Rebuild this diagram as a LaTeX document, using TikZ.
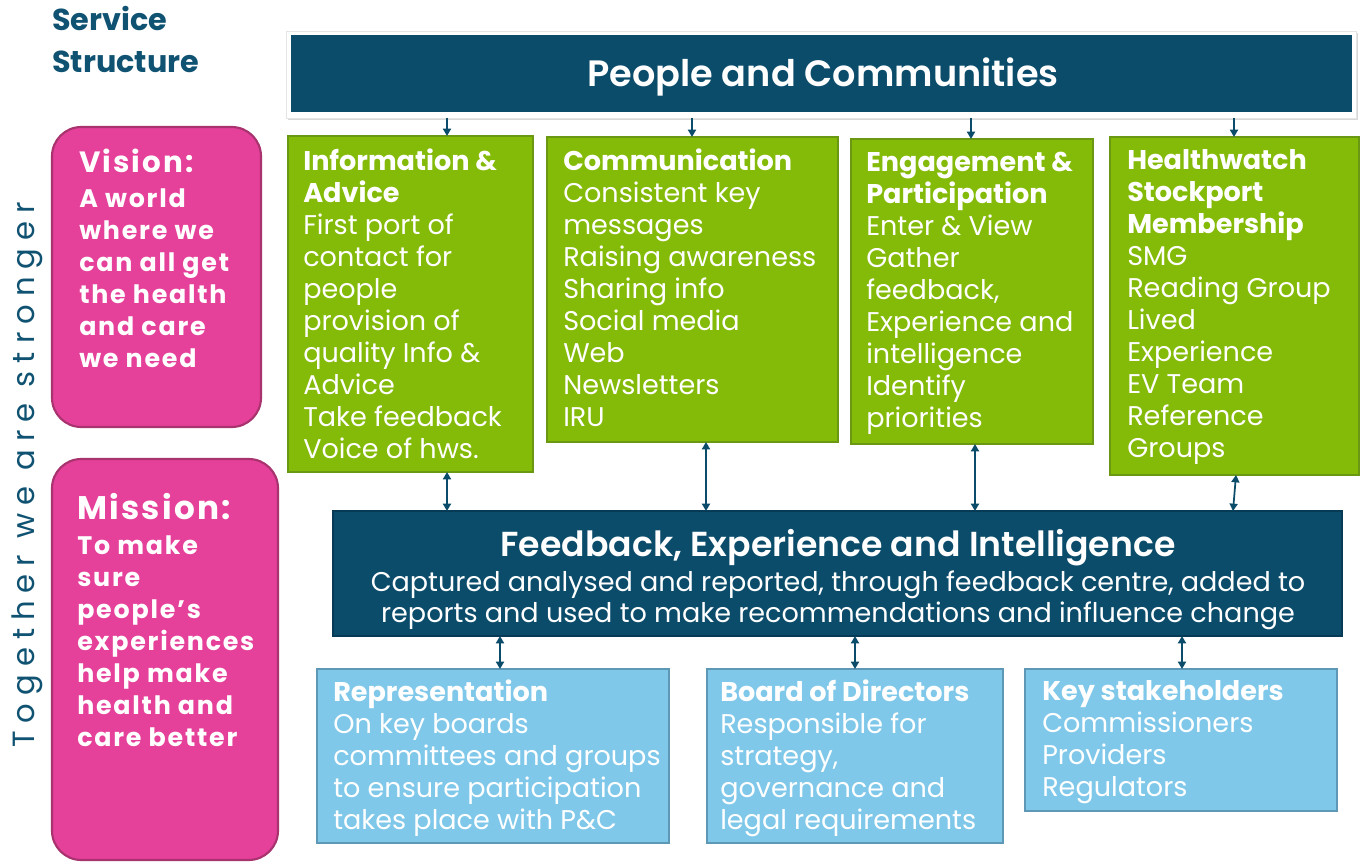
\documentclass[tikz,border=0pt]{standalone}
\usepackage{fontspec}
\setmainfont{Poppins}
\newfontfamily\sidefont[LetterSpace=26]{Poppins}
\newfontfamily\spacedfont[LetterSpace=7]{Poppins}
\newfontfamily\semibold{Poppins SemiBold}
\usetikzlibrary{arrows.meta,shadows}

\definecolor{navy}{HTML}{0B4C6B}
\definecolor{navyedge}{HTML}{073A55}
\definecolor{headblue}{HTML}{0F5272}
\definecolor{leaf}{HTML}{84BA08}
\definecolor{leafedge}{HTML}{6A9812}
\definecolor{rose}{HTML}{E5409A}
\definecolor{roseedge}{HTML}{A8336F}
\definecolor{sky}{HTML}{7FC8EA}
\definecolor{skyedge}{HTML}{5E98B6}

\newcommand{\bodysize}{\fontsize{20.3}{24}\selectfont}

\tikzset{
  rectat/.style n args={4}{anchor=north west, outer sep=0pt, inner sep=0pt,
    minimum width=(#3-#1)*0.75pt, minimum height=(#4-#2)*0.75pt, at={(#1,#2)}},
  greenbox/.style={fill=leaf, draw=leafedge, line width=2pt},
  bluebox/.style={fill=sky, draw=skyedge, line width=2pt},
  pinkbox/.style={fill=rose, draw=roseedge, line width=1.6pt, rounded corners=22pt},
  navybox/.style={fill=navy, draw=navyedge, line width=1.6pt},
  boxtext/.style={anchor=north west, inner sep=0pt, align=left, text=white, font=\bodysize},
  pinktext/.style={anchor=north west, inner sep=0pt, align=left, text=white,
    font=\spacedfont\bfseries\fontsize{19}{24}\selectfont},
  arr/.style={draw=navy, line width=1.3pt, -{Triangle[width=6pt,length=5.5pt]}},
  darr/.style={draw=navy, line width=1.3pt, {Triangle[width=6pt,length=5.5pt]}-{Triangle[width=6pt,length=5.5pt]}}
}

\begin{document}
\begin{tikzpicture}[x=0.75pt,y=-0.75pt]
\useasboundingbox (0,0) rectangle (1361,863);
\fill[white] (0,0) rectangle (1361,863);

% heading
\node[anchor=north west, inner sep=0pt, align=left, text=headblue,
      font=\bfseries\fontsize{22.7}{31.5}\selectfont] (title) at (52,6) {Service\\Structure};

% side caption
\node[rotate=90, anchor=base, inner sep=0pt, text=headblue,
      font=\sidefont\fontsize{23}{26}\selectfont] (together) at (35,475) {Together we are stronger};

% top banner
\node[rectat={286}{31}{1356}{118}, fill=white, draw=black!10,
      drop shadow={shadow xshift=1.5pt, shadow yshift=-1.5pt, opacity=0.3}] (pcframe) {};
\node[rectat={291}{35}{1352}{112}, fill=navy] (pc) {};
\node[text=white, font=\semibold\fontsize{27.5}{30}\selectfont] (pctext) at (823,77) {People and Communities};

% vision and mission
\node[rectat={52}{127}{261}{427}, pinkbox] (vision) {};
\node[pinktext] (visiontext) at (79,149)
  {{\fontsize{22}{24}\selectfont Vision:}\\[2pt]A world\\where we\\can all get\\the health\\and care\\we need};
\node[rectat={52}{459}{278}{860}, pinkbox] (mission) {};
\node[pinktext] (missiontext) at (77,493)
  {{\fontsize{24.5}{24}\selectfont Mission:}\\[2pt]To make\\sure\\people’s\\experiences\\help make\\health and\\care better};

% activity boxes
\node[rectat={288}{136}{533}{472}, greenbox] (info) {};
\node[boxtext] (infotext) at ([shift={(15,13)}]info.north west)
  {\textbf{Information \&}\\\textbf{Advice}\\First port of\\contact for\\people\\provision of\\quality Info \&\\Advice\\Take feedback\\Voice of hws.};
\node[rectat={547}{137}{838}{442}, greenbox] (comm) {};
\node[boxtext] (commtext) at ([shift={(16,12)}]comm.north west)
  {\textbf{Communication}\\Consistent key\\messages\\Raising awareness\\Sharing info\\Social media\\Web\\Newsletters\\IRU};
\node[rectat={851}{139}{1093}{444}, greenbox] (eng) {};
\node[boxtext] (engtext) at ([shift={(15,13)}]eng.north west)
  {\textbf{Engagement \&}\\\textbf{Participation}\\Enter \& View\\Gather\\feedback,\\Experience and\\intelligence\\Identify\\priorities};
\node[rectat={1110}{137}{1359}{475}, greenbox] (hw) {};
\node[boxtext] (hwtext) at ([shift={(17,12)}]hw.north west)
  {\textbf{Healthwatch}\\\textbf{Stockport}\\\textbf{Membership}\\SMG\\Reading Group\\Lived\\Experience\\EV Team\\Reference\\Groups};

% central feedback box
\node[rectat={333}{511}{1342}{636}, navybox] (fb) {};
\node[anchor=north, inner sep=0pt, align=center, text=white, font=\fontsize{20.3}{23.3}\selectfont] (fbtext) at (838,529)
  {{\semibold\fontsize{26}{24}\selectfont Feedback, Experience and Intelligence}\\[3pt]
   Captured analysed and reported, through feedback centre, added to\\
   reports and used to make recommendations and influence change};

% outcome boxes
\node[rectat={317}{669}{669}{843}, bluebox] (rep) {};
\node[boxtext] (reptext) at ([shift={(16,11)}]rep.north west)
  {\textbf{Representation}\\On key boards\\committees and groups\\to ensure participation\\takes place with P\&C};
\node[rectat={707}{669}{1003}{843}, bluebox] (board) {};
\node[boxtext] (boardtext) at ([shift={(13,11)}]board.north west)
  {\textbf{Board of Directors}\\Responsible for\\strategy,\\governance and\\legal requirements};
\node[rectat={1025}{669}{1337}{811}, bluebox] (key) {};
\node[boxtext] (keytext) at ([shift={(17,11)}]key.north west)
  {\textbf{Key stakeholders}\\Commissioners\\Providers\\Regulators};

% connector columns
\coordinate (xa) at (447,0);
\coordinate (xb) at (692,0);
\coordinate (xc) at (971,0);
\coordinate (xd) at (1234,0);
\coordinate (xe) at (706,0);
\coordinate (xf) at (975,0);
\coordinate (xg) at (1236,0);
\coordinate (xh) at (1233,0);
\coordinate (xi) at (500,0);
\coordinate (xj) at (855,0);
\coordinate (xk) at (1182,0);

% banner to activities
\draw[arr] (pcframe.south -| xa) -- (info.north -| xa);
\draw[arr] (pcframe.south -| xb) -- (comm.north -| xb);
\draw[arr] (pcframe.south -| xc) -- (eng.north -| xc);
\draw[arr] (pcframe.south -| xd) -- (hw.north -| xd);

% activities to feedback
\draw[darr] (info.south -| xa) -- (fb.north -| xa);
\draw[darr] (comm.south -| xe) -- (fb.north -| xe);
\draw[darr] (eng.south -| xf) -- (fb.north -| xf);
\draw[darr] (hw.south -| xg) -- (fb.north -| xh);

% feedback to outcomes
\draw[darr] (fb.south -| xi) -- (rep.north -| xi);
\draw[darr] (fb.south -| xj) -- (board.north -| xj);
\draw[darr] (fb.south -| xk) -- (key.north -| xk);
\end{tikzpicture}
\end{document}
